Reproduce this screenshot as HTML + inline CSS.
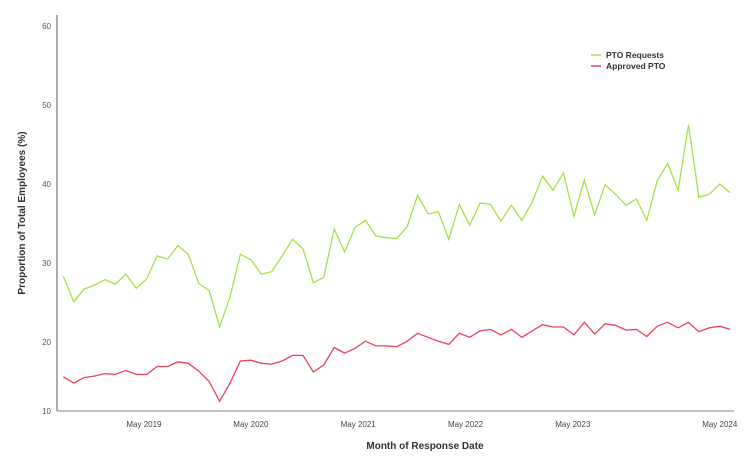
<!DOCTYPE html>
<html><head><meta charset="utf-8"><style>
body{margin:0;background:#fff;font-family:"Liberation Sans",sans-serif}
svg text{font-family:"Liberation Sans",sans-serif}
</style></head><body>
<svg id="c" width="750" height="466">
<line x1="57" y1="15" x2="57" y2="411" stroke="#777" stroke-width="1.2"/>
<line x1="57" y1="411" x2="734" y2="411" stroke="#999" stroke-width="1.2"/>
<text x="425" y="449" text-anchor="middle" font-size="10" font-weight="bold" fill="#333">Month of Response Date</text>
<text transform="translate(25,213) rotate(-90)" text-anchor="middle" font-size="10" font-weight="bold" fill="#333">Proportion of Total Employees (%)</text>
<g>
<line x1="591" y1="55" x2="601" y2="55" stroke="#a6e04a" stroke-width="1.5"/>
<text x="606" y="58" font-size="8.5" font-weight="bold" fill="#333">PTO Requests</text>
<line x1="591" y1="66" x2="601" y2="66" stroke="#e8435c" stroke-width="1.5"/>
<text x="606" y="69" font-size="8.5" font-weight="bold" fill="#333">Approved PTO</text>
</g>
<g id="ticks"></g>
<g id="lines"></g>
</svg>
<script>
const requests=[28.3,25.1,26.7,27.2,27.9,27.3,28.6,26.8,28.0,30.9,30.5,32.2,31.1,27.4,26.5,21.9,25.7,31.1,30.4,28.6,28.9,30.9,33.0,31.8,27.5,28.2,34.3,31.4,34.5,35.4,33.4,33.2,33.1,34.6,38.6,36.2,36.5,33.0,37.4,34.8,37.6,37.4,35.3,37.3,35.4,37.7,41.0,39.2,41.4,35.9,40.5,36.1,39.9,38.7,37.3,38.1,35.4,40.4,42.6,39.2,47.5,38.3,38.7,40.0,38.9];
const approved=[15.6,14.8,15.5,15.7,16.0,15.9,16.4,15.9,15.9,16.9,16.9,17.5,17.3,16.3,15.0,12.5,14.8,17.6,17.7,17.3,17.2,17.6,18.3,18.3,16.2,17.1,19.3,18.6,19.2,20.1,19.5,19.5,19.4,20.1,21.1,20.6,20.1,19.7,21.1,20.6,21.4,21.6,20.9,21.6,20.6,21.4,22.2,21.9,21.9,20.9,22.5,21.0,22.3,22.1,21.5,21.6,20.7,22.0,22.5,21.8,22.5,21.3,21.8,22.0,21.6];
const xTickLabels=["May 2019","May 2020","May 2021","May 2022","May 2023","May 2024"];
const xTickIdx=[7.74,18.0,28.3,38.6,48.9,63.0];
const yTicks=[10,20,30,40,50,60];
const NS="http://www.w3.org/2000/svg";
function x(i){return 63.3+i*10.42;}
function y(v){return 342-(v-20)*7.9;}
const tg=document.getElementById('ticks'),lg=document.getElementById('lines');
yTicks.forEach(t=>{const e=document.createElementNS(NS,'text');


e.setAttribute('x',51);e.setAttribute('y',Math.min(y(t),411)+3);e.setAttribute('text-anchor','end');e.setAttribute('font-size','8');e.setAttribute('fill','#555');e.textContent=t;tg.appendChild(e);});
xTickLabels.forEach((l,k)=>{const e=document.createElementNS(NS,'text');


e.setAttribute('x',x(xTickIdx[k]));e.setAttribute('y',427);e.setAttribute('text-anchor','middle');e.setAttribute('font-size','8');e.setAttribute('fill','#444');e.textContent=l;tg.appendChild(e);});
function line(arr,col,name){const p=document.createElementNS(NS,'polyline');


p.setAttribute('points',arr.map((v,i)=>x(i).toFixed(1)+','+y(v).toFixed(1)).join(' '));p.setAttribute('fill','none');p.setAttribute('stroke',col);p.setAttribute('stroke-width','1.3');lg.appendChild(p);}
line(requests,'#a6e04a','pto-requests-line');
line(approved,'#e8435c','approved-pto-line');
</script>
</body></html>
